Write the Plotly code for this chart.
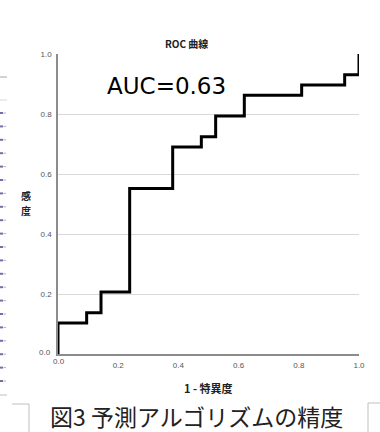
import plotly.graph_objects as go

# ROC step points (1 - specificity, sensitivity)
fpr = [0.0, 0.0, 0.0952, 0.0952, 0.1429, 0.1429, 0.2381, 0.2381, 0.3810, 0.3810,
       0.4762, 0.4762, 0.5238, 0.5238, 0.6190, 0.6190, 0.8095, 0.8095, 0.9524, 0.9524, 1.0, 1.0]
tpr = [0.0, 0.1034, 0.1034, 0.1379, 0.1379, 0.2069, 0.2069, 0.5517, 0.5517, 0.6897,
       0.6897, 0.7241, 0.7241, 0.7931, 0.7931, 0.8621, 0.8621, 0.8966, 0.8966, 0.9310, 0.9310, 1.0]
tick_vals = [0.0, 0.2, 0.4, 0.6, 0.8, 1.0]
tick_text = ["0.0", "0.2", "0.4", "0.6", "0.8", "1.0"]
auc_label = "AUC=0.63"
chart_title = "ROC 曲線"
x_title = "1 - 特異度"
y_title_chars = ["感", "度"]
caption = "図3 予測アルゴリズムの精度"

L, R, T, B = 58, 359, 54, 354
W, H = 380, 432
pw, ph = R - L, B - T

def px(x):
    return (x - L) / pw

def py(y):
    return (B - y) / ph

fig = go.Figure()
fig.add_trace(go.Scatter(x=fpr, y=tpr, mode="lines",
                         line=dict(color="black", width=3), hoverinfo="skip",
                         showlegend=False))

tickfont = dict(family="Liberation Sans, Arial", size=8, color="#555555")
fig.update_xaxes(range=[0, 1], tickvals=tick_vals[1:], ticktext=tick_text[1:],
                 showgrid=False, zeroline=False, showline=True,
                 linecolor="#8c8c8c", linewidth=1.5, ticks="", tickfont=tickfont,
                 ticklabelstandoff=3, fixedrange=True)
fig.update_yaxes(range=[0, 1], tickvals=tick_vals[1:], ticktext=tick_text[1:],
                 showgrid=True, gridcolor="#d9d9d9", gridwidth=1.2, zeroline=False,
                 showline=True, linecolor="#8c8c8c", linewidth=1.5, ticks="",
                 tickfont=tickfont, ticklabelstandoff=3, fixedrange=True)

def note(x, y, text, font, xanchor="center", yanchor="middle", ref="paper"):
    return dict(x=x, y=y, xref=ref, yref=ref, text=text, showarrow=False,
                xanchor=xanchor, yanchor=yanchor, font=font)

ytfont = dict(family="Noto Sans CJK JP", size=10, color="#222222")
ann = [
    note(0.362, 0.893, auc_label, dict(family="DejaVu Sans", size=23, color="black")),
    note(px(186), py(44), "<b>" + chart_title + "</b>",
         dict(family="Noto Sans CJK JP, Liberation Sans", size=10, color="#222222")),
    note(px(208), py(388), "<b>" + x_title + "</b>",
         dict(family="Noto Sans CJK JP, Liberation Sans", size=11, color="#222222")),
    note(px(26), py(195), "<b>" + y_title_chars[0] + "</b>", ytfont),
    note(px(26), py(210), "<b>" + y_title_chars[1] + "</b>", ytfont),
    note(px(53), py(352), tick_text[0], tickfont, xanchor="right"),
    note(px(59), py(361), tick_text[0], tickfont),
    note(px(196), py(416), caption, dict(family="Noto Sans CJK JP", size=23, color="#222222")),
]
ann[0]["xref"], ann[0]["yref"] = "x", "y"

shapes = []
def seg(x0, y0, x1, y1, color="#bfbfbf", width=1):
    shapes.append(dict(type="line", xref="paper", yref="paper",
                       x0=px(x0), y0=py(y0), x1=px(x1), y1=py(y1),
                       line=dict(color=color, width=width)))

seg(0, 77, 7, 77, "#a6a6a6")
seg(0, 100, 7, 100, "#d9d9d9")
seg(0, 395, 7, 395, "#bfbfbf")
seg(12, 404, 29, 404, "#bfbfbf")
seg(29, 404, 29, 432, "#bfbfbf")
seg(368, 403, 380, 403, "#bfbfbf")
seg(368, 403, 368, 432, "#bfbfbf")
for i in range(21):
    yy = 113 + i * 13.4
    seg(0, yy, 3, yy, "#7a6aa8", 2)
    seg(3.5, yy, 6, yy, "#b0b0c0", 1)

fig.update_layout(width=W, height=H, margin=dict(l=L, r=W - R, t=T, b=H - B),
                  plot_bgcolor="white", paper_bgcolor="white",
                  annotations=ann, shapes=shapes, showlegend=False)
fig.write_html("out.html", config={"displayModeBar": False},
               post_script="document.body.style.margin='0';document.body.style.padding='0';"
                           "document.body.style.overflow='hidden';")
